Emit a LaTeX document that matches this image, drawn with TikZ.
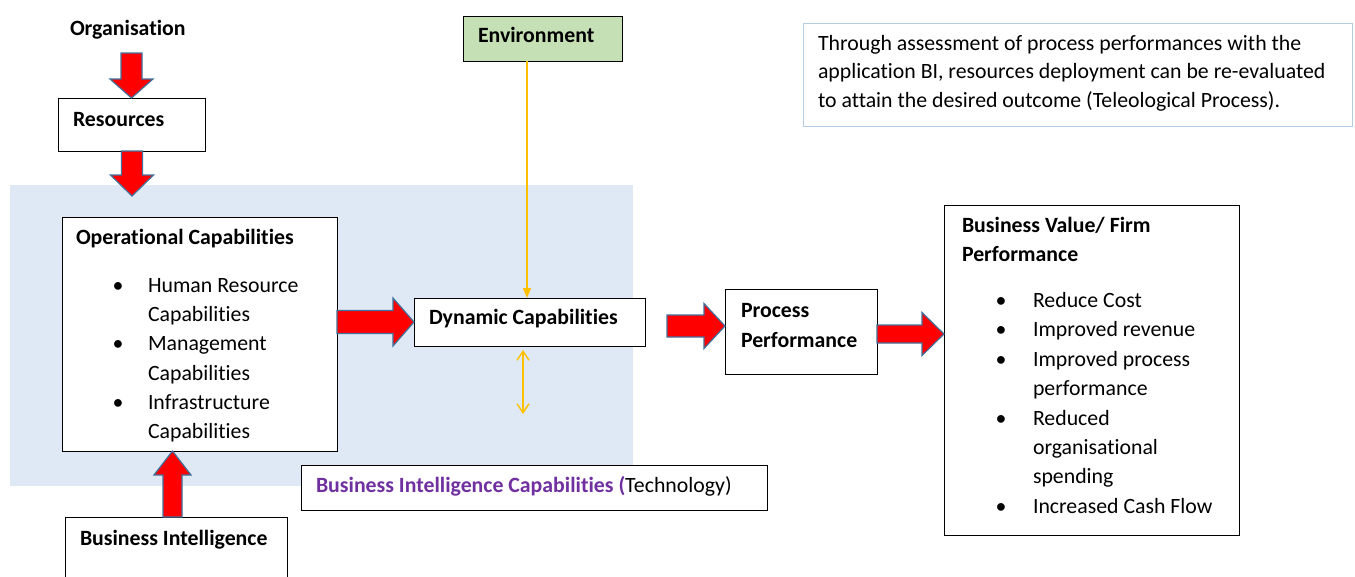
\documentclass[tikz,border=0pt]{standalone}
\usepackage{fontspec}
\setmainfont{Carlito}[Ligatures=NoCommon]
\usetikzlibrary{calc,arrows.meta}

\definecolor{arrowred}{HTML}{FF0000}
\definecolor{arrowedge}{HTML}{41719C}
\definecolor{linkyellow}{HTML}{FFC000}
\definecolor{envgreen}{HTML}{C5E0B4}
\definecolor{zoneblue}{HTML}{DEE9F5}
\definecolor{noteedge}{HTML}{B4CCE4}
\definecolor{bipurple}{HTML}{7030A0}

\tikzset{
  box/.style={draw=black, line width=1pt, fill=white, inner sep=0pt, outer sep=0pt, anchor=north west},
  txt/.style={anchor=base west, inner sep=0pt, outer sep=0pt, font=\mainsize},
  bold/.style={txt, font=\mainsize\bfseries},
  bul/.style={anchor=base, inner sep=0pt, outer sep=0pt, font=\mainsize},
  blockarrow/.style={fill=arrowred, draw=arrowedge, line width=1.2pt, line join=miter},
  yel/.style={draw=linkyellow, line width=1.4pt}
}
\newcommand\mainsize{\fontsize{21.8}{26}\selectfont}

% horizontal block arrow: tail, tip, shaft half-width, head half-width, head length
\newcommand\blockright[5]{%
  \path[blockarrow] let \p1=#1, \p2=#2 in
    (\x1,{\y2+#3}) -- ({\x2-#5},{\y2+#3}) -- ({\x2-#5},{\y2+#4}) -- (\x2,\y2)
    -- ({\x2-#5},{\y2-#4}) -- ({\x2-#5},{\y2-#3}) -- (\x1,{\y2-#3}) -- cycle;}
% vertical block arrow: tail, tip, shaft half-width, head half-width,
% signed head length (positive points down, negative points up)
\newcommand\blockvert[5]{%
  \path[blockarrow] let \p1=#1, \p2=#2 in
    ({\x2-#3},\y1) -- ({\x2-#3},{\y2+(#5)}) -- ({\x2-#4},{\y2+(#5)}) -- (\x2,\y2)
    -- ({\x2+#4},{\y2+(#5)}) -- ({\x2+#3},{\y2+(#5)}) -- ({\x2+#3},\y1) -- cycle;}

\begin{document}
\begin{tikzpicture}[x=1pt,y=-1pt]
\useasboundingbox (0,0) rectangle (1355,576);
\fill[white] (0,0) rectangle (1355,576);
\clip (0,0) rectangle (1355,576);

% shaded capability zone
\node[fill=zoneblue, inner sep=0pt, outer sep=0pt, anchor=north west,
      minimum width=623pt, minimum height=301pt] (zone) at (10,185) {};

% boxes
\node[box, minimum width=147pt, minimum height=53pt]  (res)   at (58,98)   {};
\node[box, minimum width=275pt, minimum height=234pt] (op)    at (62,217)  {};
\node[box, fill=envgreen, minimum width=159pt, minimum height=45pt] (env) at (463,16) {};
\node[box, minimum width=231pt, minimum height=48pt]  (dyn)   at (414,298) {};
\node[box, minimum width=152pt, minimum height=85pt]  (proc)  at (725,289) {};
\node[box, minimum width=295pt, minimum height=330pt] (bv)    at (944,205) {};
\node[box, draw=noteedge, minimum width=549pt, minimum height=103pt] (note) at (803,23) {};
\node[box, minimum width=466pt, minimum height=45pt]  (bicap) at (301,465) {};
\node[box, minimum width=222pt, minimum height=70pt]  (bi)    at (65,517)  {};

% labels
\node[bold] (org) at (70,35) {Organisation};
\node[bold] at (73,126) {Resources};
\node[bold] at (478,42.5) {Environment};
\node[bold] at (76,244.5) {Operational Capabilities};
\node[bul] at (118,292.5) {•};
\node[txt] at (148,292.5) {Human Resource};
\node[txt] at (148,321.7) {Capabilities};
\node[bul] at (118,350.9) {•};
\node[txt] at (148,350.9) {Management};
\node[txt] at (148,380.1) {Capabilities};
\node[bul] at (118,409.3) {•};
\node[txt] at (148,409.3) {Infrastructure};
\node[txt] at (148,438.5) {Capabilities};

\node[bold] at (429,324.5) {Dynamic Capabilities};
\node[bold] at (741,317) {Process};
\node[bold] at (741,347) {Performance};

\node[bold] at (962,232.5) {Business Value/ Firm};
\node[bold] at (962,261.5) {Performance};
\node[bul] at (1001,307.5) {•};
\node[txt] at (1033,307.5) {Reduce Cost};
\node[bul] at (1001,336.9) {•};
\node[txt] at (1033,336.9) {Improved revenue};
\node[bul] at (1001,366.3) {•};
\node[txt] at (1033,366.3) {Improved process};
\node[txt] at (1033,395.7) {performance};
\node[bul] at (1001,425.1) {•};
\node[txt] at (1033,425.1) {Reduced};
\node[txt] at (1033,454.5) {organisational};
\node[txt] at (1033,483.9) {spending};
\node[bul] at (1001,513.3) {•};
\node[txt] at (1033,513.3) {Increased Cash Flow};

\node[txt] at (818,50.5)  {Through assessment of process performances with the};
\node[txt] at (818,78.9)  {application BI, resources deployment can be re-evaluated};
\node[txt] at (818,107.3) {to attain the desired outcome (Teleological Process).};

\node[txt] at (316,492.5) {\textcolor{bipurple}{\bfseries Business Intelligence Capabilities (}Technology)};
\node[bold] at (80,545.5) {Business Intelligence};

% free ends and guide points for the connectors
\coordinate (orgtail) at (132,53);
\coordinate (restip)  at (132,196);
\coordinate (bix)     at (172.5,0);
\coordinate (dptail)  at (667,326);
\coordinate (pby)     at (0,334);
\coordinate (yx)      at (527,0);
\coordinate (dblA)    at (523,350);
\coordinate (dblB)    at (523,414);

% red block arrows
\blockvert{(orgtail)}{(res.north)}{10.5pt}{21.5pt}{19pt}
\blockvert{(res.south)}{(restip)}{10.5pt}{21.5pt}{21pt}
\blockvert{(bix |- bi.north)}{(bix |- op.south)}{9.5pt}{18.5pt}{-24pt}
\blockright{(op.east |- dyn.west)}{(dyn.west)}{11.5pt}{24pt}{21pt}
\blockright{(dptail)}{(proc.west |- dptail)}{11pt}{22.5pt}{21pt}
\blockright{(proc.east |- pby)}{(bv.west |- pby)}{9pt}{21.5pt}{22pt}

% environment influence and BI link
\draw[yel, -{Triangle[length=10pt,width=8pt]}] (yx |- env.south) -- (yx |- dyn.north);
\draw[yel, {Straight Barb[length=9pt,width=12pt]}-{Straight Barb[length=9pt,width=12pt]}] (dblA) -- (dblB);
\end{tikzpicture}
\end{document}
